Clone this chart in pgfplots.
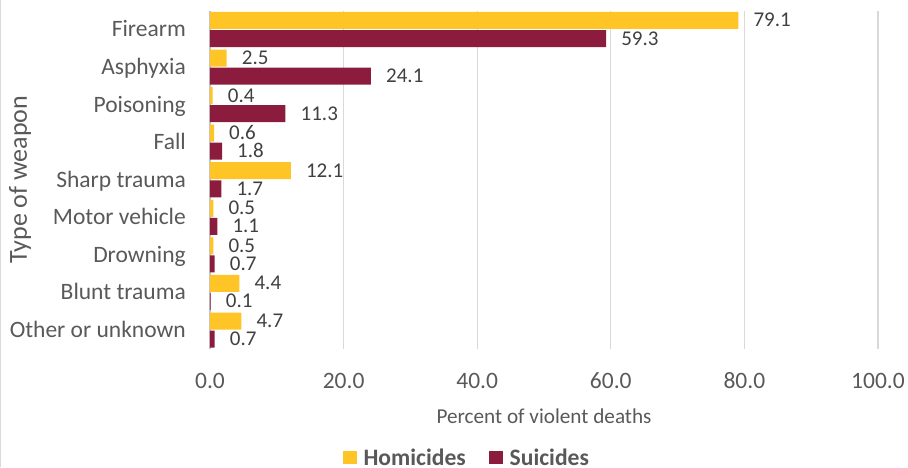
\documentclass[border=0pt]{standalone}
\usepackage{fontspec}
\setmainfont{Carlito}
\usepackage{pgfplots}
\pgfplotsset{compat=1.18}
\definecolor{homic}{HTML}{FFC425}
\definecolor{suic}{HTML}{8B1C3E}
\definecolor{txt}{HTML}{595959}
\definecolor{vlab}{HTML}{404040}
\definecolor{gridc}{HTML}{D9D9D9}
\begin{document}
\begin{tikzpicture}
\useasboundingbox (-210pt,-118.2pt) rectangle (698pt,348.8pt);
\draw[gridc, line width=1pt] (-209.5pt,-118.2pt) -- (-209.5pt,348.8pt);
\begin{axis}[
  at={(0,0)}, anchor=south west,
  scale only axis,
  width=668pt, height=338.1pt,
  xbar,
  xmin=0, xmax=100,
  ymin=-0.5, ymax=8.5,
  y dir=reverse,
  bar width=0.4526,
  axis lines=left,
  x axis line style={draw=none},
  y axis line style={draw=gray!45, line width=1.5pt, -},
  xmajorgrids,
  grid style={gridc, line width=1.3pt},
  major tick length=0pt,
  xtick={0,20,40,60,80,100},
  xticklabels={0.0,20.0,40.0,60.0,80.0,100.0},
  xticklabel style={font=\fontsize{23.5}{28}\selectfont, text=txt,
    anchor=base, yshift=-39.5pt, inner sep=0pt},
  ytick={0,1,2,3,4,5,6,7,8},
  yticklabels={Firearm,Asphyxia,Poisoning,Fall,Sharp trauma,Motor vehicle,Drowning,Blunt trauma,Other or unknown},
  yticklabel style={font=\fontsize{23.5}{28}\selectfont, text=txt,
    anchor=east, inner sep=0pt, xshift=-24pt, text height=15pt, text depth=0pt},
  xlabel={Percent of violent deaths},
  xlabel style={font=\fontsize{21.2}{25}\selectfont, text=txt,
    at={(axis description cs:0.5,-0.2195)}, anchor=base, inner sep=0pt},
  ylabel={Type of weapon},
  ylabel style={font=\fontsize{26}{30}\selectfont, text=txt,
    at={(axis description cs:-0.2844,0.5)}, anchor=center},
  /pgf/number format/assume math mode=true,
  nodes near coords={\pgfmathprintnumber[fixed,fixed zerofill,precision=1]{\pgfplotspointmeta}},
  nodes near coords style={font=\fontsize{21}{25}\selectfont, text=vlab,
    anchor=west, inner sep=0pt, xshift=15pt, text height=13pt, text depth=0pt},
  legend style={at={(axis description cs:0.3832,-0.3222)}, anchor=center,
    draw=none, fill=none, legend columns=-1,
    font=\bfseries\fontsize{23.6}{27}\selectfont, text=txt,
    nodes={inner sep=0pt, text height=15pt, text depth=0pt},
    /tikz/every odd column/.append style={column sep=6.6pt},
    /tikz/every even column/.append style={column sep=23.3pt}},
  legend image code/.code={\fill[#1] (0pt,-6.65pt) rectangle (14pt,6.65pt);},
]
\addplot[fill=homic, draw=none, bar shift=-0.24] coordinates {
  (79.1,0) (2.5,1) (0.4,2) (0.6,3) (12.1,4) (0.5,5) (0.5,6) (4.4,7) (4.7,8)};
\addlegendentry{Homicides}
\addplot[fill=suic, draw=none, bar shift=0.24] coordinates {
  (59.3,0) (24.1,1) (11.3,2) (1.8,3) (1.7,4) (1.1,5) (0.7,6) (0.1,7) (0.7,8)};
\addlegendentry{Suicides}
\end{axis}
\end{tikzpicture}
\end{document}
